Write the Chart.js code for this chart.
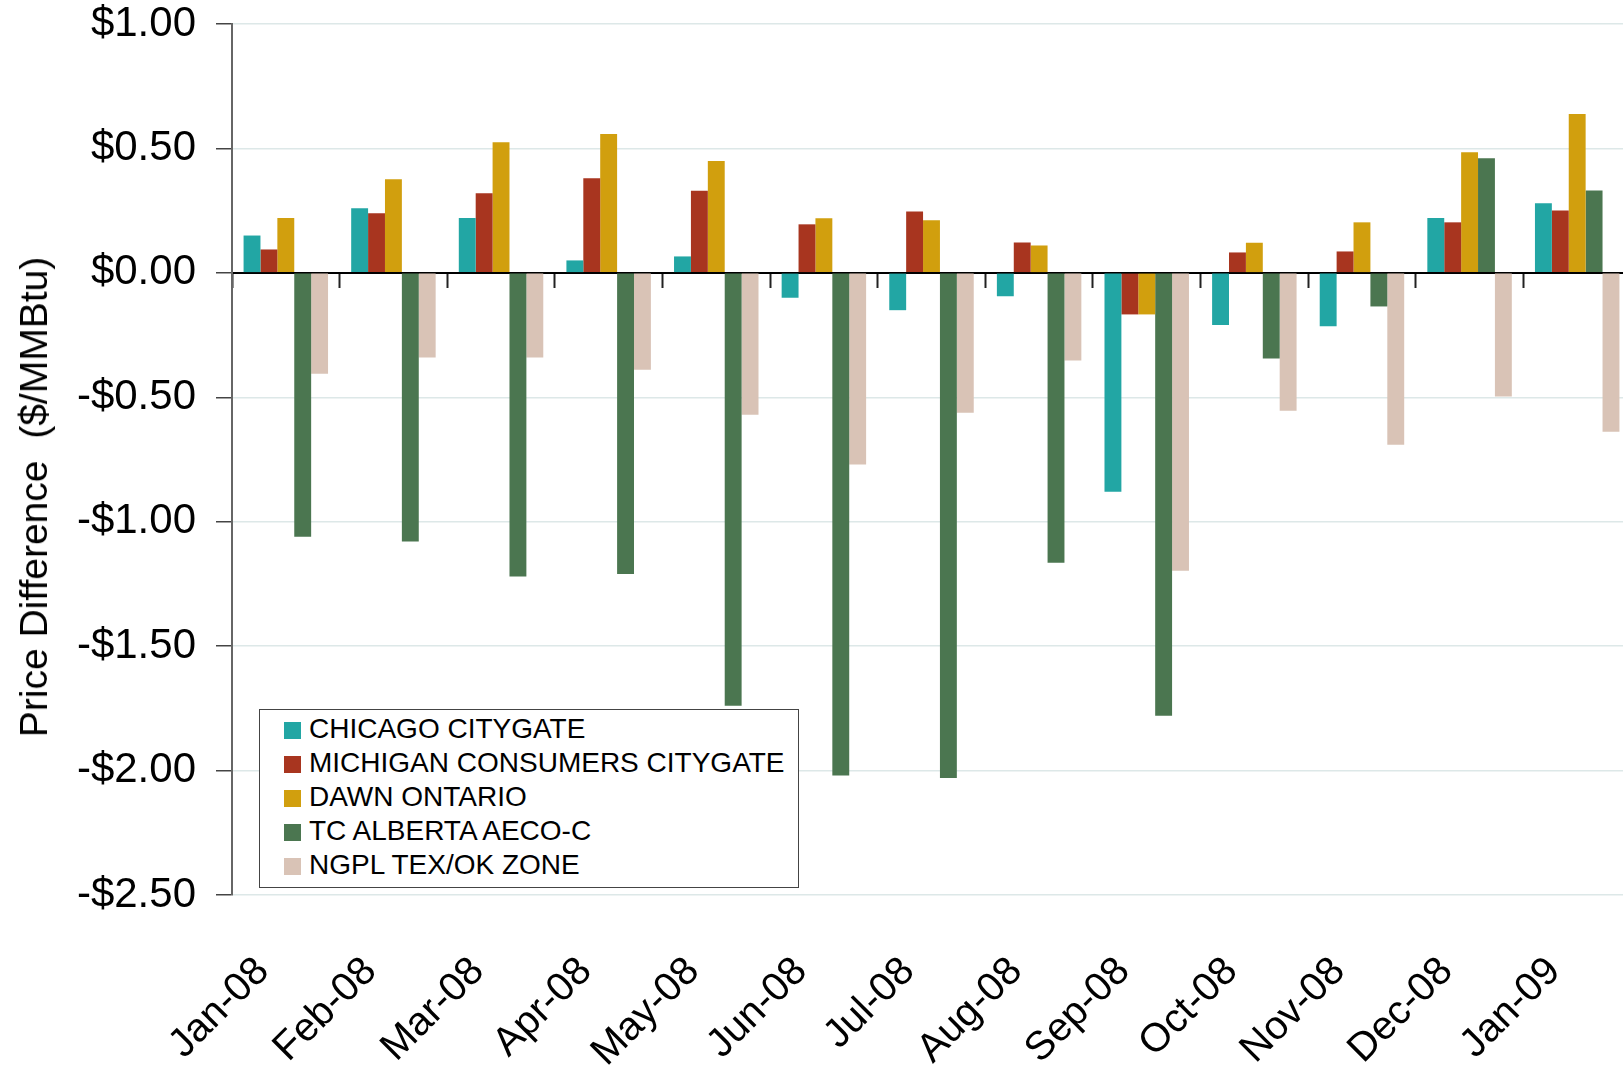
<!DOCTYPE html>
<html lang="en">
<head>
    <meta charset="UTF-8">
    <title>Price Difference</title>
    <style>
        html, body {
            margin: 0;
            padding: 0;
            background-color: white;
        }
        .wrap {
            position: relative;
            width: 1623px;
            height: 1067px;
            overflow: hidden;
        }
        #chart {
            position: absolute;
            left: 0;
            top: 0;
        }
        .ytitle {
            position: absolute;
            left: 34px;
            top: 497px;
            transform: translate(-50%, -50%) rotate(-90deg);
            font: 39px "Liberation Sans", Arial, sans-serif;
            white-space: pre;
            color: #000;
        }
        .legend {
            position: absolute;
            left: 259px;
            top: 709px;
            width: 538px;
            height: 175px;
            border: 1px solid #444;
            background: white;
            padding-top: 2px;
            font: 28px "Liberation Sans", Arial, sans-serif;
            color: #000;
        }
        .legend .item {
            height: 34px;
            line-height: 34px;
            padding-left: 24px;
            white-space: nowrap;
        }
        .legend .sw {
            display: inline-block;
            width: 17px;
            height: 17px;
            margin-right: 8px;
            vertical-align: -1px;
        }
    </style>
    <script src="https://cdn.jsdelivr.net/npm/chart.js@4"></script>
</head>
<body>
<div class="wrap">
    <!-- the source picture is cropped a few pixels into the last category -->
    <canvas id="chart" width="1631" height="1067"></canvas>
    <div class="ytitle">Price Difference  ($/MMBtu)</div>
    <div class="legend" id="legend"></div>
</div>
<script>
    const months = ['Jan-08', 'Feb-08', 'Mar-08', 'Apr-08', 'May-08', 'Jun-08', 'Jul-08',
                    'Aug-08', 'Sep-08', 'Oct-08', 'Nov-08', 'Dec-08', 'Jan-09'];

    const seriesNames = ['CHICAGO CITYGATE', 'MICHIGAN CONSUMERS CITYGATE', 'DAWN ONTARIO',
                         'TC ALBERTA AECO-C', 'NGPL TEX/OK ZONE'];
    const seriesColors = ['#22A6A4', '#A8351F', '#D19F0E', '#4B7650', '#D9C3B6'];

    const chicago  = [0.15, 0.26, 0.22, 0.05, 0.066, -0.10, -0.15, -0.094, -0.88, -0.21, -0.215, 0.22, 0.28];
    const michigan = [0.094, 0.24, 0.32, 0.38, 0.33, 0.195, 0.247, 0.122, -0.167, 0.082, 0.086, 0.203, 0.251];
    const dawn     = [0.22, 0.376, 0.525, 0.558, 0.449, 0.219, 0.211, 0.11, -0.167, 0.121, 0.203, 0.485, 0.638];
    const aeco     = [-1.06, -1.08, -1.22, -1.21, -1.74, -2.02, -2.03, -1.165, -1.78, -0.344, -0.135, 0.461, 0.331];
    const ngpl     = [-0.405, -0.34, -0.34, -0.389, -0.57, -0.77, -0.562, -0.352, -1.197, -0.554, -0.691, -0.497, -0.638];

    const yMin = -2.5, yMax = 1, yStep = 0.5;

    function money(v) {
        const s = '$' + Math.abs(v).toFixed(2);
        return v < 0 ? '-' + s : s;
    }

    const font = '"Liberation Sans", Arial, sans-serif';
    const allSeries = [chicago, michigan, dawn, aeco, ngpl];

    const chart = new Chart(document.getElementById('chart'), {
        type: 'bar',
        data: {
            labels: months,
            datasets: allSeries.map((vals, i) => ({
                label: seriesNames[i],
                data: vals,
                backgroundColor: seriesColors[i],
                borderWidth: 0,
                xAxisID: 'x',
                categoryPercentage: 0.785,
                barPercentage: 1
            }))
        },
        options: {
            responsive: false,
            animation: false,
            layout: { padding: { top: 24, right: 0, left: 0, bottom: 0 } },
            plugins: {
                legend: { display: false },
                tooltip: { enabled: false }
            },
            scales: {
                x: {
                    offset: true,
                    grid: { display: false },
                    border: { display: false },
                    ticks: {
                        autoSkip: false,
                        maxRotation: 45,
                        minRotation: 45,
                        color: '#000',
                        font: { family: font, size: 40 },
                        padding: 45,
                        labelOffset: -23
                    },
                    afterFit: s => { s.height = 172; s.paddingRight = 0; }
                },
                x0: {
                    type: 'category',
                    position: { y: 0 },
                    offset: true,
                    z: 1,
                    grid: {
                        offset: true,
                        drawOnChartArea: false,
                        drawTicks: true,
                        tickLength: 14,
                        tickColor: '#222',
                        tickWidth: 2
                    },
                    border: { color: '#000', width: 2 },
                    ticks: { display: false }
                },
                y: {
                    min: yMin,
                    max: yMax,
                    ticks: {
                        stepSize: yStep,
                        callback: v => money(v),
                        color: '#000',
                        font: { family: font, size: 42 },
                        padding: 20
                    },
                    grid: {
                        color: '#dde8e8',
                        lineWidth: 1.5,
                        tickColor: '#444',
                        tickLength: 16
                    },
                    border: { color: '#666', width: 2 },
                    afterFit: s => { s.width = 232; s.paddingTop = 0; s.paddingBottom = 0; }
                }
            }
        }
    });

    // legend box built from the chart datasets
    const legendEl = document.getElementById('legend');
    chart.data.datasets.forEach(ds => {
        const row = document.createElement('div');
        row.className = 'item';
        const sw = document.createElement('span');
        sw.className = 'sw';
        sw.style.background = ds.backgroundColor;
        row.appendChild(sw);
        row.appendChild(document.createTextNode(ds.label));
        legendEl.appendChild(row);
    });
</script>
</body>
</html>
